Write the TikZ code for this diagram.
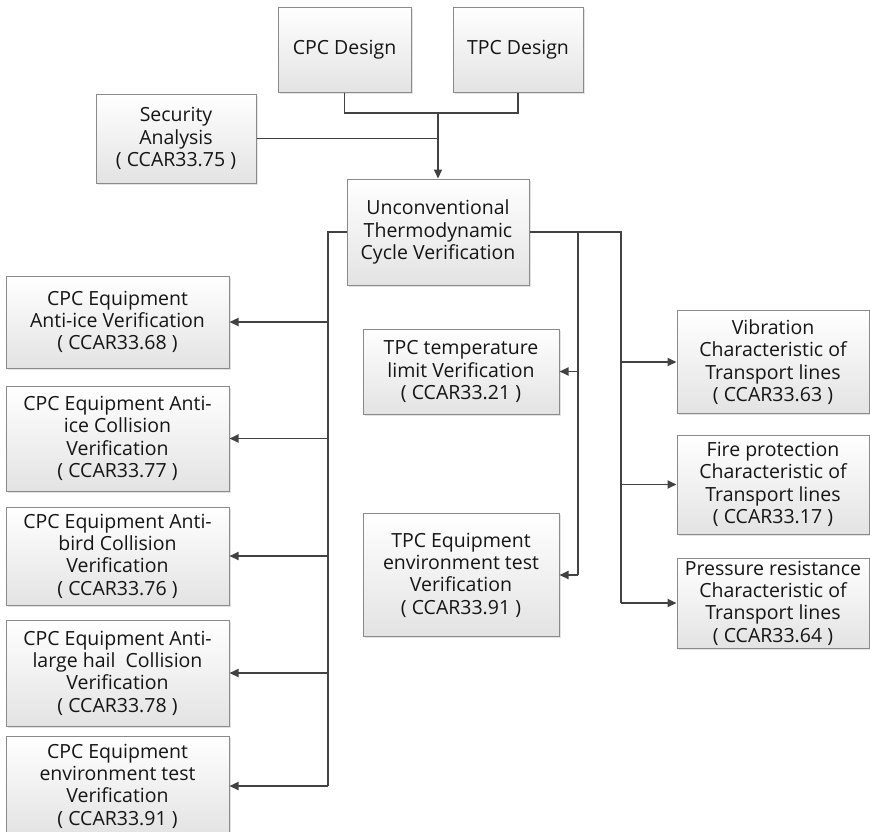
\documentclass[tikz,border=0pt]{standalone}
\usepackage{fontspec}
\setmainfont{Open Sans}
\usetikzlibrary{arrows.meta,shadows,calc}
\definecolor{linec}{HTML}{424242}
\definecolor{boxline}{HTML}{8A8A8A}
\definecolor{txt}{HTML}{151515}
\begin{document}
\begin{tikzpicture}[x=1pt,y=-1pt,
  box/.style={draw=boxline, line width=1pt, top color=white, bottom color=black!11,
    drop shadow={opacity=0.22, shadow xshift=1.5pt, shadow yshift=-1.5pt},
    align=center, inner sep=1pt, text=txt,
    font=\fontsize{19.5}{22.3}\selectfont},
  conn/.style={draw=linec, line width=1.9pt},
  arr/.style={conn, -{Triangle[length=9pt,width=8pt]}}]
\useasboundingbox (0,0) rectangle (870,831);
% top
\node[box, minimum width=133pt, minimum height=85pt] (cpc) at (344.5,49.5) {CPC Design};
\node[box, minimum width=130pt, minimum height=85pt] (tpc) at (518,49.5) {TPC Design};
\node[box, minimum width=160pt, minimum height=89pt] (sec) at (176,138.5) {Security\\Analysis\\( CCAR33.75 )};
\node[box, minimum width=182pt, minimum height=106pt] (ucv) at (438,232) {Unconventional\\Thermodynamic\\Cycle Verification};
% left column
\node[box, minimum width=223pt, minimum height=92pt] (L1) at (117.5,322) {CPC Equipment\\Anti-ice Verification\\( CCAR33.68 )};
\node[box, minimum width=223pt, minimum height=105pt] (L2) at (117.5,438.5) {CPC Equipment Anti-\\ice Collision\\Verification\\( CCAR33.77 )};
\node[box, minimum width=223pt, minimum height=98pt] (L3) at (117.5,556) {CPC Equipment Anti-\\bird Collision\\Verification\\( CCAR33.76 )};
\node[box, minimum width=223pt, minimum height=106pt] (L4) at (117.5,673) {CPC Equipment Anti-\\large hail~ Collision\\Verification\\( CCAR33.78 )};
\node[box, minimum width=223pt, minimum height=100pt] (L5) at (117.5,786) {CPC Equipment\\environment test\\Verification\\( CCAR33.91 )};
% middle column
\node[box, minimum width=196pt, minimum height=85pt] (M1) at (461,371.5) {TPC temperature\\limit Verification\\( CCAR33.21 )};
\node[box, minimum width=196pt, minimum height=123pt] (M2) at (461,575) {TPC Equipment\\environment test\\Verification\\( CCAR33.91 )};
% right column
\node[box, minimum width=192pt, minimum height=103pt] (R1) at (773,362) {Vibration\\Characteristic of\\Transport lines\\( CCAR33.63 )};
\node[box, minimum width=192pt, minimum height=99pt] (R2) at (773,484.5) {Fire protection\\Characteristic of\\Transport lines\\( CCAR33.17 )};
\node[box, minimum width=192pt, minimum height=90pt] (R3) at (773,603) {Pressure resistance\\Characteristic of\\Transport lines\\( CCAR33.64 )};
% junctions
\coordinate (j) at (438,113);
\coordinate (lb) at (328,232);
\coordinate (mb) at (578,232);
\coordinate (rb) at (621,232);
% top connectors
\draw[conn] (cpc.south) |- (j) -| (tpc.south);
\draw[conn] (sec.east) -- (sec.east -| j);
\draw[arr] (j) -- (ucv.north);
% left bus
\draw[conn] (ucv.west) -- (lb) -- (lb |- L5.east);
\foreach \n in {L1,L2,L3,L4,L5} \draw[arr] (lb |- \n.east) -- (\n.east);
% right side bus
\draw[conn] (ucv.east) -- (rb) -- (rb |- R3.west);
\draw[conn] (mb) -- (mb |- M2.east);
\foreach \n in {M1,M2} \draw[arr] (mb |- \n.east) -- (\n.east);
\foreach \n in {R1,R2,R3} \draw[arr] (rb |- \n.west) -- (\n.west);
\end{tikzpicture}
\end{document}
